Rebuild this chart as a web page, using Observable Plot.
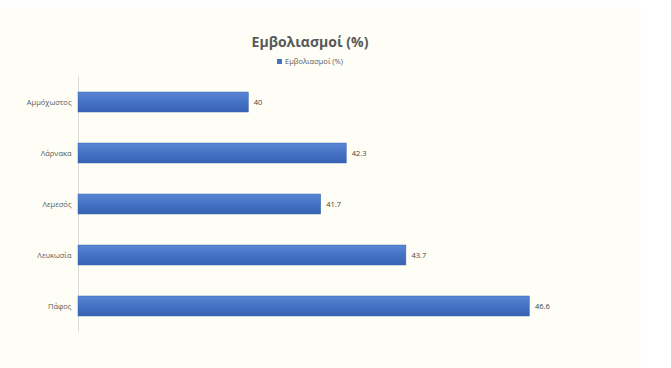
<!DOCTYPE html>
<html>
<head>
<meta charset="utf-8">
<script src="https://cdn.jsdelivr.net/npm/d3@7"></script>
<script src="https://cdn.jsdelivr.net/npm/@observablehq/plot@0.6"></script>
<style>
  html, body { margin: 0; padding: 0; background: #ffffff; width: 671px; height: 368px; overflow: hidden; }
  #bg { position: absolute; left: 0; top: 7px; width: 641px; height: 361px; background: #fefef6; }
  #title { position: absolute; left: 0; width: 620px; top: 32px; text-align: center; font-family: "Open Sans", "Noto Sans", sans-serif; font-weight: bold; font-size: 14px; color: #595959; }
  #legend { position: absolute; left: 0; width: 620px; top: 56px; text-align: center; font-family: "Open Sans", "Noto Sans", sans-serif; font-size: 7.5px; color: #595959; }
  #legend .sw { display: inline-block; width: 5px; height: 5px; background: #4472c4; margin-right: 3px; vertical-align: 0px; }
  #chart { position: absolute; left: 0; top: 0; }
</style>
</head>
<body>
<div id="bg"></div>
<div id="title">Εμβολιασμοί (%)</div>
<div id="legend"><span class="sw"></span>Εμβολιασμοί (%)</div>
<div id="chart"></div>
<script>
const categories = ["Αμμόχωστος", "Λάρνακα", "Λεμεσός", "Λευκωσία", "Πάφος"];
const values = [40, 42.3, 41.7, 43.7, 46.6];
const seriesName = "Εμβολιασμοί (%)";

const data = categories.map((c, i) => ({ category: c, value: values[i] }));

const chart = Plot.plot({
  width: 671,
  height: 368,
  marginLeft: 78,
  marginRight: 82,
  marginTop: 76,
  marginBottom: 36,
  style: { background: "transparent", fontFamily: "'Open Sans', 'Noto Sans', sans-serif" },
  x: { domain: [36, 48], axis: null },
  y: { domain: categories, paddingInner: 0.6, paddingOuter: 0.3, label: null },
  marks: [
    Plot.ruleX([36], { stroke: "#dcdcdc", strokeWidth: 1 }),
    Plot.barX(data, {
      x1: 36, x2: "value", y: "category",
      fill: "url(#barGrad)", stroke: "#3d68b5", strokeWidth: 0.5,
      style: "filter: drop-shadow(1px 1.5px 1px rgba(0,0,0,0.35))"
    }),
    Plot.text(data, {
      x: "value", y: "category", text: d => String(d.value),
      textAnchor: "start", dx: 5, fontSize: 7.5, fill: "#404040"
    }),
    Plot.axisY({ tickSize: 0, tickPadding: 7, fontSize: 7.5, color: "#595959", label: null })
  ]
});

const svg = d3.select(chart);
const defs = svg.insert("defs", ":first-child");
const g = defs.append("linearGradient").attr("id", "barGrad").attr("x1", 0).attr("y1", 0).attr("x2", 0).attr("y2", 1);
g.append("stop").attr("offset", "0%").attr("stop-color", "#5b86d4");
g.append("stop").attr("offset", "50%").attr("stop-color", "#4472c4");
g.append("stop").attr("offset", "100%").attr("stop-color", "#3862b4");

document.getElementById("chart").appendChild(chart);
</script>
</body>
</html>
